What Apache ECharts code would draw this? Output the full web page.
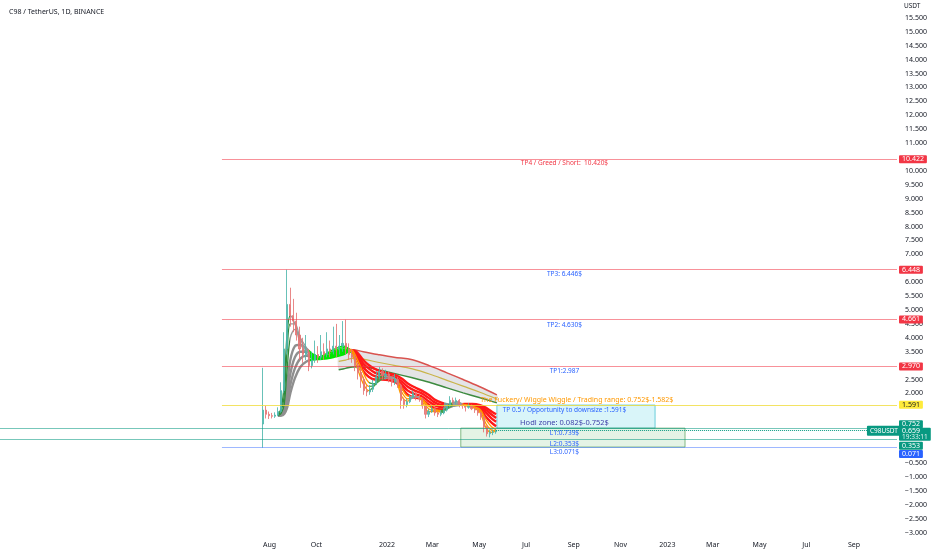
<!DOCTYPE html>
<html><head><meta charset="utf-8">
<script src="https://cdn.jsdelivr.net/npm/echarts@6/dist/echarts.min.js"></script>
<style>html,body{margin:0;padding:0;background:#fff}#c{width:932px;height:550px}</style>
</head><body><div id="c"></div>
<script>
// ---------- DATA ----------
const candleDates = ['2021-07-23','2021-07-27','2021-07-31','2021-08-04','2021-08-08','2021-08-12','2021-08-16','2021-08-20','2021-08-24','2021-08-28',
'2021-09-01','2021-09-05','2021-09-09','2021-09-13','2021-09-17','2021-09-21','2021-09-25','2021-09-29','2021-10-03','2021-10-07',
'2021-10-11','2021-10-15','2021-10-19','2021-10-23','2021-10-27','2021-10-31','2021-11-04','2021-11-08','2021-11-12','2021-11-16',
'2021-11-20','2021-11-24','2021-11-28','2021-12-02','2021-12-06','2021-12-10','2021-12-14','2021-12-18','2021-12-22','2021-12-26',
'2021-12-30','2022-01-03','2022-01-07','2022-01-11','2022-01-15','2022-01-19','2022-01-23','2022-01-27','2022-01-31','2022-02-04',
'2022-02-08','2022-02-12','2022-02-16','2022-02-20','2022-02-24','2022-02-28','2022-03-04','2022-03-08','2022-03-12','2022-03-16',
'2022-03-20','2022-03-24','2022-03-28','2022-04-01','2022-04-05','2022-04-09','2022-04-13','2022-04-17','2022-04-21','2022-04-25',
'2022-04-29','2022-05-03','2022-05-07','2022-05-11','2022-05-15','2022-05-19','2022-05-23'];
const opens = [0.90,1.40,1.25,1.20,1.18,1.22,1.35,2.10,3.60,5.20,
4.80,4.60,4.10,3.60,3.40,3.50,3.00,3.20,3.40,3.30,
3.50,3.40,3.60,3.50,3.70,3.60,3.70,3.80,3.60,3.40,
3.30,3.00,2.75,2.50,2.10,2.05,2.15,2.35,2.60,2.80,
2.65,2.70,2.50,2.40,2.50,2.30,1.75,1.60,1.70,1.85,
2.00,1.85,1.80,1.55,1.25,1.35,1.45,1.30,1.25,1.30,
1.40,1.55,1.75,1.70,1.75,1.60,1.55,1.50,1.55,1.45,
1.40,1.30,1.15,0.80,0.55,0.60,0.62];
const closes = [1.40,1.25,1.20,1.18,1.22,1.35,2.10,3.60,5.20,4.80,
4.60,4.10,3.60,3.40,3.50,3.00,3.20,3.40,3.30,3.50,
3.40,3.60,3.50,3.70,3.60,3.70,3.80,3.60,3.40,3.30,
3.00,2.75,2.50,2.10,2.05,2.15,2.35,2.60,2.80,2.65,
2.70,2.50,2.40,2.50,2.30,1.75,1.60,1.70,1.85,2.00,
1.85,1.80,1.55,1.25,1.35,1.45,1.30,1.25,1.30,1.40,
1.55,1.75,1.70,1.75,1.60,1.55,1.50,1.55,1.45,1.40,
1.30,1.15,0.80,0.55,0.60,0.62,0.659];
const lows = [0.05,1.10,1.08,1.10,1.12,1.18,1.30,2.00,3.40,4.40,
4.20,3.90,3.20,3.10,3.20,2.80,2.90,3.10,3.10,3.20,
3.20,3.30,3.30,3.40,3.30,3.40,3.50,3.40,3.20,3.10,
2.80,2.50,2.20,1.95,1.90,1.95,2.05,2.30,2.50,2.50,
2.50,2.40,2.25,2.30,2.20,1.45,1.45,1.50,1.65,1.80,
1.75,1.70,1.45,1.10,1.15,1.30,1.20,1.15,1.18,1.25,
1.35,1.50,1.60,1.60,1.50,1.45,1.35,1.45,1.40,1.30,
1.20,1.05,0.60,0.45,0.42,0.50,0.55];
const highs = [2.92,1.55,1.35,1.30,1.32,1.50,2.40,4.20,6.45,5.80,
5.40,4.90,4.40,4.00,4.10,3.60,3.50,3.90,3.70,4.10,
3.80,4.20,3.90,4.40,4.50,4.10,4.60,4.65,3.80,3.60,
3.40,3.10,2.90,2.60,2.30,2.30,2.50,2.80,2.95,2.90,
2.85,2.80,2.60,2.70,2.60,2.35,1.85,1.80,1.95,2.10,
2.05,1.95,1.85,1.60,1.45,1.55,1.50,1.35,1.40,1.50,
1.65,1.90,1.85,1.85,1.80,1.65,1.60,1.65,1.60,1.50,
1.45,1.35,1.20,0.85,0.70,0.70,0.70];

const ribbonDates = ['2021-08-12','2021-08-16','2021-08-20','2021-08-24','2021-08-28','2021-09-03','2021-09-10','2021-09-18','2021-09-26','2021-10-05',
'2021-10-15','2021-10-25','2021-11-05','2021-11-15','2021-11-22','2021-12-01','2021-12-08','2021-12-16','2021-12-25','2022-01-03',
'2022-01-12','2022-01-20','2022-01-28','2022-02-06','2022-02-15','2022-02-24','2022-03-05','2022-03-14','2022-03-23','2022-04-02',
'2022-04-12','2022-04-22','2022-05-02','2022-05-10','2022-05-17','2022-05-23'];
const shortEma1 = [1.25,1.45,2.3,4.2,4.8,4.5,3.8,3.45,3.25,3.3,3.45,3.6,3.7,3.5,3.0,2.35,2.1,2.3,2.7,2.6,2.5,1.9,1.72,1.9,1.75,1.35,1.35,1.32,1.6,1.7,1.57,1.5,1.32,0.75,0.6,0.64];
const shortEma2 = [1.22,1.35,1.9,3.6,4.5,4.5,3.95,3.55,3.3,3.28,3.4,3.55,3.65,3.55,3.15,2.55,2.25,2.3,2.6,2.6,2.52,2.05,1.8,1.88,1.8,1.45,1.38,1.35,1.55,1.67,1.6,1.52,1.38,0.9,0.68,0.65];
const shortEma3 = [1.2,1.28,1.6,2.9,4.0,4.3,4.0,3.65,3.35,3.25,3.35,3.5,3.6,3.58,3.3,2.75,2.4,2.35,2.5,2.55,2.52,2.2,1.9,1.88,1.82,1.55,1.42,1.38,1.5,1.62,1.6,1.54,1.43,1.05,0.8,0.7];
const longEma1 = [1.2,1.24,1.45,2.3,3.2,3.7,3.75,3.6,3.4,3.3,3.32,3.45,3.55,3.5,3.3,2.8,2.6,2.5,2.5,2.48,2.4,2.2,1.95,1.85,1.8,1.6,1.45,1.42,1.5,1.6,1.6,1.55,1.45,1.15,0.95,0.82];
const longEma2 = [1.2,1.22,1.35,1.9,2.7,3.3,3.5,3.5,3.4,3.3,3.3,3.4,3.5,3.52,3.38,2.95,2.75,2.62,2.58,2.56,2.5,2.32,2.1,1.98,1.9,1.72,1.56,1.5,1.52,1.58,1.6,1.58,1.5,1.3,1.1,0.98];
const longEma3 = [1.2,1.21,1.3,1.65,2.3,2.9,3.25,3.35,3.32,3.28,3.28,3.36,3.45,3.54,3.45,3.08,2.9,2.75,2.68,2.64,2.58,2.43,2.24,2.1,2.0,1.84,1.66,1.58,1.56,1.58,1.61,1.6,1.55,1.4,1.24,1.12];
const longEma4 = [1.2,1.2,1.26,1.5,2.0,2.55,2.95,3.15,3.22,3.24,3.26,3.32,3.4,3.55,3.5,3.2,3.02,2.88,2.78,2.72,2.66,2.54,2.36,2.22,2.1,1.95,1.76,1.66,1.6,1.6,1.62,1.62,1.58,1.48,1.35,1.25];

const channelDates = ['2021-10-30','2021-11-08','2021-11-17','2021-12-01','2021-12-20','2022-01-10','2022-02-03','2022-02-25','2022-03-20','2022-04-10','2022-05-01','2022-05-24'];
const channelTop = [3.45,3.55,3.57,3.50,3.40,3.30,3.21,3.00,2.74,2.50,2.25,1.95];
const channelMid = [3.15,3.20,3.26,3.23,3.12,3.01,2.88,2.70,2.47,2.26,2.05,1.80];
const channelBottom = [2.85,2.90,2.95,2.96,2.85,2.72,2.56,2.40,2.20,2.02,1.85,1.66];

const levelValues = [10.422, 6.448, 4.661, 2.970, 1.591, 0.752, 0.353, 0.071];
const levelTags = ['10.422','6.448','4.661','2.970','1.591','0.752','0.353','0.071'];
const lastPrice = 0.659;
const lastPriceTag = '0.659';
const countdown = '19:33:11';
const symbolTag = 'C98USDT';
const tradingRange = [1.582, 0.752];
const hodlRange = [0.752, 0.071];
const noteTexts = ['TP4 / Greed / Short:  10.420$','TP3: 6.446$','TP2: 4.630$','TP1:2.987',
  'The Fuckery/ Wiggle Wiggle / Trading range: 0.752$-1.582$','TP 0.5 / Opportunity to downsize :1.591$',
  'Hodl zone: 0.082$-0.752$','L1:0.739$','L2:0.353$','L3:0.071$'];
const xTickDates = ['2021-08-01','2021-10-01','2022-01-01','2022-03-01','2022-05-01','2022-07-01','2022-09-01','2022-11-01','2023-01-01','2023-03-01','2023-05-01','2023-07-01','2023-09-01'];
const xTickLabels = ['Aug','Oct','2022','Mar','May','Jul','Sep','Nov','2023','Mar','May','Jul','Sep'];
const hiddenYTicks = [16, 10.5, 6.5, 3, 1.5, 1, 0.5, 0];

// ---------- BUILD ----------
const T = s => Date.parse(s + 'T00:00:00Z');
const pairs = (dates, vals) => dates.map((d, i) => [T(d), vals[i]]);
const xMin = T('2020-08-15'), xMax = T('2023-10-27');
const FONT = "'Noto Sans', sans-serif";
const tickMap = {};
xTickDates.forEach((d, i) => { tickMap[T(d)] = xTickLabels[i]; });

const candleData = candleDates.map((d, i) => [T(d), opens[i], closes[i], lows[i], highs[i]]);

const gray = '#9a9a9a';
const longPieces = [
  {min: xMin, max: T('2021-09-22'), color: '#8f8f8f'},
  {min: T('2021-09-22'), max: T('2021-11-15'), color: '#00e600'},
  {min: T('2021-11-15'), max: T('2022-03-16'), color: '#ff1a1a'},
  {min: T('2022-03-16'), max: T('2022-04-10'), color: '#8f8f8f'},
  {min: T('2022-04-10'), max: xMax, color: '#ff1a1a'}];
const shortPieces = [
  {min: xMin, max: T('2021-08-27'), color: '#2e8b3a'},
  {min: T('2021-08-27'), max: T('2021-09-22'), color: gray},
  {min: T('2021-09-22'), max: T('2021-11-14'), color: '#00e600'},
  {min: T('2021-11-14'), max: T('2021-12-09'), color: '#ff9800'},
  {min: T('2021-12-09'), max: T('2021-12-28'), color: '#43a047'},
  {min: T('2021-12-28'), max: T('2022-01-14'), color: gray},
  {min: T('2022-01-14'), max: T('2022-01-30'), color: '#ff9800'},
  {min: T('2022-01-30'), max: T('2022-02-12'), color: gray},
  {min: T('2022-02-12'), max: T('2022-03-12'), color: '#ff9800'},
  {min: T('2022-03-12'), max: T('2022-03-28'), color: '#43a047'},
  {min: T('2022-03-28'), max: T('2022-04-08'), color: gray},
  {min: T('2022-04-08'), max: xMax, color: '#ff9800'}];

function lineSeries(name, data, width, color) {
  const s = {name, type: 'line', data, symbol: 'none', smooth: 0.35, lineStyle: {width}, z: 3, silent: true};
  if (color) s.lineStyle.color = color;
  return s;
}

const levelStarts = [T('2021-05-31'), T('2021-05-31'), T('2021-05-31'), T('2021-05-31'), T('2021-05-31'), xMin, xMin, T('2021-05-31')];
const levelColors = ['rgba(242,54,69,0.55)','rgba(242,54,69,0.55)','rgba(242,54,69,0.55)','rgba(242,54,69,0.55)','rgba(240,220,60,0.8)','rgba(8,153,129,0.55)','rgba(8,153,129,0.55)','rgba(41,98,255,0.45)'];
const tagBg = ['#f23645','#f23645','#f23645','#f23645','#ffeb3b','#089981','#089981','#2962ff'];
const tagFg = ['#fff','#fff','#fff','#fff','#131722','#fff','#fff','#fff'];
const tagOffset = [0,0,0,0,0,-4,6.5,7];

const markLines = levelValues.map((v, i) => [
  {coord: [levelStarts[i], v], lineStyle: {color: levelColors[i], width: 1, type: 'solid'},
   label: {show: true, position: 'end', distance: 2, formatter: levelTags[i], backgroundColor: tagBg[i], color: tagFg[i],
     fontSize: 7, fontFamily: FONT, padding: [1, 3, 0, 3], borderRadius: 1, offset: [0, tagOffset[i]]}},
  {coord: [xMax, v]}]);
markLines.push([
  {coord: [T(candleDates[candleDates.length - 1]), lastPrice], lineStyle: {color: '#089981', width: 1, type: 'dotted'},
   label: {show: true, position: 'end', distance: 2, formatter: '{a|' + lastPriceTag + '}\n{b|' + countdown + '}',
     backgroundColor: '#089981', padding: [0, 3, 0, 3], borderRadius: 1, offset: [0, 3.5],
     rich: {a: {color: '#fff', fontSize: 7, fontFamily: FONT, lineHeight: 6.5}, b: {color: '#e0f2ef', fontSize: 6.5, fontFamily: FONT, lineHeight: 6.5}}}},
  {coord: [xMax, lastPrice]}]);

const noteColors = ['#f23645','#2962ff','#2962ff','#2962ff','#ff9800','#2962ff','#3d3fa8','#2962ff','#2962ff','#2962ff'];
const noteDates = ['2022-08-20','2022-08-20','2022-08-20','2022-08-20','2022-09-05','2022-08-20','2022-08-20','2022-08-20','2022-08-20','2022-08-20'];
const notePrices = [10.295, 6.30, 4.47, 2.81, 1.77, 1.41, 0.944, 0.583, 0.187, -0.10];
const noteSizes = [6.5, 6.5, 6.5, 6.5, 7, 6.5, 7.5, 6.5, 6.5, 6.5];
const markPoints = noteTexts.map((t, i) => ({
  coord: [T(noteDates[i]), notePrices[i]], symbol: 'circle', symbolSize: 0, itemStyle: {color: 'transparent'},
  label: {show: true, position: 'inside', formatter: t, color: noteColors[i], fontSize: noteSizes[i], fontFamily: FONT}}));
markPoints.push({coord: [T('2023-10-10'), lastPrice], symbol: 'circle', symbolSize: 0, itemStyle: {color: 'transparent'},
  label: {show: true, position: 'inside', formatter: symbolTag, color: '#fff', backgroundColor: '#089981', fontSize: 6.5,
    fontFamily: FONT, padding: [2, 3, 1, 3], borderRadius: 1}});

const option = {
  animation: false,
  backgroundColor: '#ffffff',
  textStyle: {fontFamily: FONT},
  title: {text: 'C98 / TetherUS, 1D, BINANCE', left: 4, top: 3, textStyle: {fontSize: 7, fontWeight: 'normal', color: '#131722', fontFamily: FONT}},
  graphic: [{type: 'text', left: 904, top: 3, style: {text: 'USDT', fontSize: 6.5, fill: '#131722', fontFamily: FONT}}],
  grid: {left: 0, right: 35, top: 4, height: 528.5},
  xAxis: {type: 'value', min: xMin, max: xMax, axisLine: {show: false}, axisTick: {show: false}, splitLine: {show: false},
    axisLabel: {customValues: xTickDates.map(T), formatter: v => tickMap[v] || '', color: '#131722', fontSize: 7, margin: 9, fontFamily: FONT}},
  yAxis: {type: 'value', position: 'right', min: -3, max: 16, interval: 0.5,
    axisLine: {show: false}, axisTick: {show: false}, splitLine: {show: false},
    axisLabel: {color: '#131722', fontSize: 7, margin: 8, fontFamily: FONT, align: 'left',
      formatter: v => hiddenYTicks.some(h => Math.abs(h - v) < 1e-6) ? '' : (v < 0 ? '\u2212' + Math.abs(v).toFixed(3) : v.toFixed(3))}},
  visualMap: [
    {type: 'piecewise', show: false, dimension: 0, seriesIndex: [4, 5, 6, 7], pieces: longPieces},
    {type: 'piecewise', show: false, dimension: 0, seriesIndex: [8, 9, 10], pieces: shortPieces}],
  series: [
    {name: 'chFill', type: 'custom', silent: true, z: 1, data: [[T(channelDates[0]), channelTop[0]]],
      renderItem: (params, api) => {
        const top = channelDates.map((d, i) => api.coord([T(d), channelTop[i]]));
        const bot = channelDates.map((d, i) => api.coord([T(d), channelBottom[i]])).reverse();
        return {type: 'polygon', shape: {points: top.concat(bot), smooth: 0.3}, style: {fill: 'rgba(130,130,140,0.22)'}};
      }},
    lineSeries('chTop', pairs(channelDates, channelTop), 1.5, '#d9534f'),
    lineSeries('chMid', pairs(channelDates, channelMid), 1.2, '#c9b44a'),
    lineSeries('chBottom', pairs(channelDates, channelBottom), 1.5, '#3d8b40'),
    lineSeries('L1', pairs(ribbonDates, longEma1), 2.4),
    lineSeries('L2', pairs(ribbonDates, longEma2), 2.4),
    lineSeries('L3', pairs(ribbonDates, longEma3), 2.4),
    lineSeries('L4', pairs(ribbonDates, longEma4), 2.4),
    lineSeries('S1', pairs(ribbonDates, shortEma1), 1.3),
    lineSeries('S2', pairs(ribbonDates, shortEma2), 1.3),
    lineSeries('S3', pairs(ribbonDates, shortEma3), 1.3),
    {name: 'C98USDT', type: 'candlestick', data: candleData, barWidth: 1.6, z: 4, silent: true,
      itemStyle: {color: '#4db6ac', color0: '#e57373', borderColor: '#4db6ac', borderColor0: '#e57373', borderWidth: 1, opacity: 0.85}},
    {name: 'notes', type: 'line', data: [[T(candleDates[candleDates.length - 1]), lastPrice]], symbol: 'none', lineStyle: {width: 0}, clip: false, z: 5, silent: true,
      markArea: {silent: true, data: [
        [{coord: [T('2022-05-24'), tradingRange[0]], itemStyle: {color: 'rgba(0,188,212,0.15)', borderColor: 'rgba(0,172,193,0.55)', borderWidth: 1}},
         {coord: [T('2022-12-16'), tradingRange[1]]}],
        [{coord: [T('2022-04-07'), hodlRange[0]], itemStyle: {color: 'rgba(76,175,80,0.15)', borderColor: 'rgba(56,142,60,0.6)', borderWidth: 1}},
         {coord: [T('2023-01-24'), hodlRange[1]]}]]},
      markLine: {silent: true, symbol: ['none', 'none'], data: markLines},
      markPoint: {silent: true, data: markPoints}}
  ]
};
const chart = echarts.init(document.getElementById('c'), null, {renderer: 'canvas'});
chart.setOption(option);
</script></body></html>
